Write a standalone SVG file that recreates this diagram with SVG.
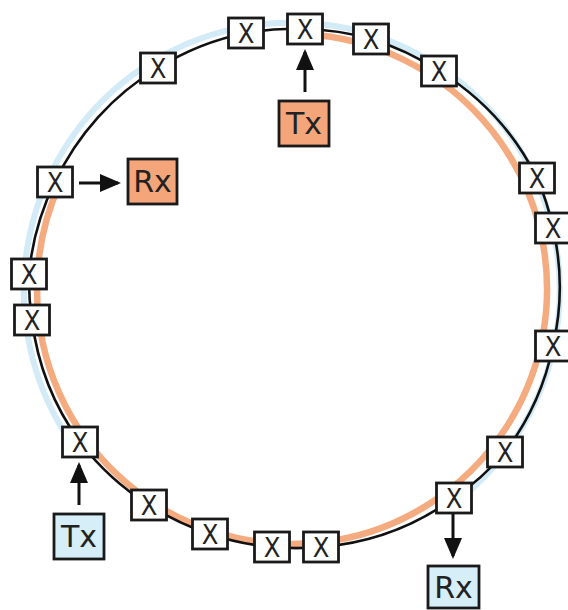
<svg xmlns="http://www.w3.org/2000/svg" width="568" height="610" viewBox="0 0 568 610">
<style>
.ring{fill:none;stroke:#111;stroke-width:2.6}
.band-o{fill:none;stroke:#f4a272;stroke-width:6.5;opacity:0.9}
.band-b{fill:none;stroke:#d3ebf6;stroke-width:6}
.node rect{fill:#fff;stroke:#1a1a1a;stroke-width:2.8}
.node text{font-family:"DejaVu Sans Condensed","DejaVu Sans",sans-serif;font-size:27px;fill:#222;text-anchor:middle}
.lbl rect{stroke:#1a1a1a;stroke-width:2.8}
.lbl text{font-family:"DejaVu Sans","Liberation Sans",sans-serif;font-size:30px;fill:#222;text-anchor:middle}
.org{fill:#f4a57a}
.blu{fill:#d6eef8}
.arr{stroke:#111;stroke-width:3;fill:none;marker-end:url(#ah)}
</style>
<defs>
<marker id="ah" markerWidth="7" markerHeight="6" refX="6" refY="3" orient="auto" markerUnits="strokeWidth">
<path d="M0,0 L7,3 L0,6 Z" fill="#111"/>
</marker>
</defs>
<rect width="568" height="610" fill="#fff"/>
<g id="bands">
<path class="band-b" d="M73.8,446.4 A268 268 0 1 1 456.9,501.6"/>
<path class="band-o" d="M304.9,34.3 A255 255 0 1 1 59.6,184.1"/>
</g>
<g id="connectors">
<path class="ring" d="M158,68 A262 262 0 0 1 246,33 A262 262 0 0 1 305,29 A262 262 0 0 1 371,39 A262 262 0 0 1 439,71 A262 262 0 0 1 537,178 A262 262 0 0 1 553,228 A262 262 0 0 1 553,346 A262 262 0 0 1 505,452 A262 262 0 0 1 454,498 A262 262 0 0 1 321,547 A262 262 0 0 1 272,547 A262 262 0 0 1 210,534 A262 262 0 0 1 149,505 A262 262 0 0 1 80,442 A262 262 0 0 1 32,320 A262 262 0 0 1 29,274 A262 262 0 0 1 55,182 A262 262 0 0 1 158,68 Z"/>
<line class="arr" x1="305" y1="92" x2="305" y2="52"/>
<line class="arr" x1="79" y1="183" x2="118" y2="183"/>
<line class="arr" x1="79" y1="505" x2="79" y2="465"/>
<line class="arr" x1="453" y1="514" x2="453" y2="556"/>
</g>
<g id="n1" class="node"><rect x="140.5" y="53" width="35" height="30"/><text x="158" y="78">X</text></g>
<g id="n2" class="node"><rect x="228.5" y="18" width="35" height="30"/><text x="246" y="43">X</text></g>
<g id="n3" class="node"><rect x="287.5" y="14" width="35" height="30"/><text x="305" y="39">X</text></g>
<g id="n4" class="node"><rect x="353.5" y="24" width="35" height="30"/><text x="371" y="49">X</text></g>
<g id="n5" class="node"><rect x="421.5" y="56" width="35" height="30"/><text x="439" y="81">X</text></g>
<g id="n6" class="node"><rect x="519.5" y="163" width="35" height="30"/><text x="537" y="188">X</text></g>
<g id="n7" class="node"><rect x="535.5" y="213" width="35" height="30"/><text x="553" y="238">X</text></g>
<g id="n8" class="node"><rect x="535.5" y="331" width="35" height="30"/><text x="553" y="356">X</text></g>
<g id="n9" class="node"><rect x="487.5" y="437" width="35" height="30"/><text x="505" y="462">X</text></g>
<g id="n10" class="node"><rect x="436.5" y="483" width="35" height="30"/><text x="454" y="508">X</text></g>
<g id="n11" class="node"><rect x="303.5" y="532" width="35" height="30"/><text x="321" y="557">X</text></g>
<g id="n12" class="node"><rect x="254.5" y="532" width="35" height="30"/><text x="272" y="557">X</text></g>
<g id="n13" class="node"><rect x="192.5" y="519" width="35" height="30"/><text x="210" y="544">X</text></g>
<g id="n14" class="node"><rect x="131.5" y="490" width="35" height="30"/><text x="149" y="515">X</text></g>
<g id="n15" class="node"><rect x="62.5" y="427" width="35" height="30"/><text x="80" y="452">X</text></g>
<g id="n16" class="node"><rect x="14.5" y="305" width="35" height="30"/><text x="32" y="330">X</text></g>
<g id="n17" class="node"><rect x="11.5" y="259" width="35" height="30"/><text x="29" y="284">X</text></g>
<g id="n18" class="node"><rect x="37.5" y="167" width="35" height="30"/><text x="55" y="192">X</text></g>
<g id="tx-top" class="lbl"><rect class="org" x="279" y="101" width="50" height="45"/><text x="304" y="134">Tx</text></g>
<g id="rx-left" class="lbl"><rect class="org" x="128" y="159" width="49" height="45"/><text x="152.5" y="192">Rx</text></g>
<g id="tx-bottom" class="lbl"><rect class="blu" x="54" y="514" width="50" height="45"/><text x="79" y="547">Tx</text></g>
<g id="rx-bottom" class="lbl"><rect class="blu" x="428" y="566" width="51" height="42"/><text x="453.5" y="598">Rx</text></g>
</svg>
